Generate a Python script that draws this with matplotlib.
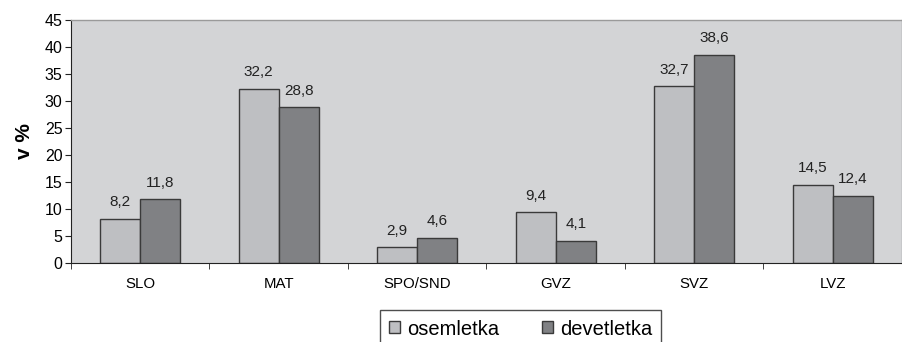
import matplotlib
matplotlib.use("Agg")
import matplotlib.pyplot as plt
import numpy as np
from matplotlib.patches import Patch

plt.rcParams['font.family'] = ['Liberation Sans', 'DejaVu Sans']

categories = ["SLO", "MAT", "SPO/SND", "GVZ", "SVZ", "LVZ"]
osemletka = [8.2, 32.2, 2.9, 9.4, 32.7, 14.5]
devetletka = [11.8, 28.8, 4.6, 4.1, 38.6, 12.4]
series_names = ["osemletka", "devetletka"]
yticks = [0, 5, 10, 15, 20, 25, 30, 35, 40, 45]

light = "#bebfc2"
dark = "#808184"
edge = "#3a3a3a"

fig = plt.figure(figsize=(9.02, 3.42), dpi=100)
ax = fig.add_axes([0.0787, 0.231, 0.9213, 0.7105])
ax.set_facecolor("#d3d4d6")

x = np.arange(len(categories))
w = 0.29
b1 = ax.bar(x - w / 2, osemletka, w, color=light, edgecolor=edge, linewidth=1.0)
b2 = ax.bar(x + w / 2, devetletka, w, color=dark, edgecolor=edge, linewidth=1.0)

def fmt(v):
    return f"{v:.1f}".replace(".", ",")

for bars, vals in ((b1, osemletka), (b2, devetletka)):
    for r, v in zip(bars, vals):
        ax.annotate(fmt(v), (r.get_x() + r.get_width() / 2, v), xytext=(0, 7),
                    textcoords="offset points", ha="center", va="bottom",
                    fontsize=11, color="#222222")

ax.set_xlim(-0.5, len(categories) - 0.5)
ax.set_ylim(0, 45)
ax.set_yticks(yticks)
ax.set_yticklabels([str(t) for t in yticks], fontsize=11.5)
ax.set_xticks(x)
ax.set_xticklabels(categories, fontsize=10.8)
ax.tick_params(axis="x", length=0, pad=10)
ax.set_xticks(np.arange(len(categories) + 1) - 0.5, minor=True)
ax.tick_params(axis="x", which="minor", length=4, direction="out", color="#222222")
ax.tick_params(axis="y", length=4, direction="out", color="#222222", pad=2)

for s in ("top", "right"):
    ax.spines[s].set_color("#9a9a9a")
    ax.spines[s].set_linewidth(1.0)
ax.spines["left"].set_color("#222222")
ax.spines["bottom"].set_color("#222222")

ax.set_ylabel("v %", fontsize=15, fontweight="bold", labelpad=8)

handles = [Patch(facecolor=light, edgecolor=edge, linewidth=1.0),
           Patch(facecolor=dark, edgecolor=edge, linewidth=1.0)]
leg = fig.legend(handles, series_names, loc="center", bbox_to_anchor=(0.577, 0.038),
                 ncol=2, fontsize=14.5, frameon=True, fancybox=False,
                 handlelength=0.55, handleheight=0.55, handletextpad=0.35,
                 columnspacing=2.1, borderpad=0.45, borderaxespad=0,
                 edgecolor="#222222")
leg.get_frame().set_linewidth(1.0)

fig.savefig("out.png", dpi=100)
